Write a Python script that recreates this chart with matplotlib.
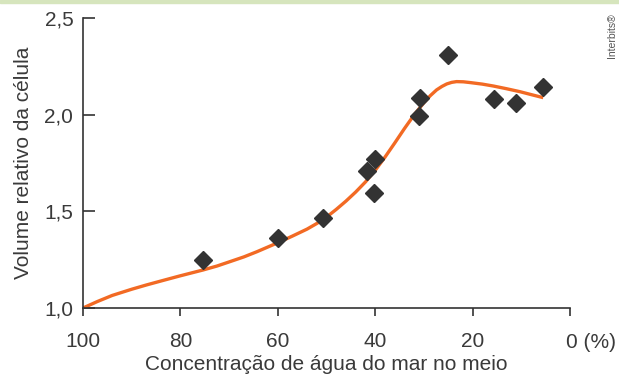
import matplotlib
matplotlib.use("Agg")
import matplotlib.pyplot as plt
from matplotlib.patches import Rectangle

# Data points (measured)
pts_x = [75.4, 60.0, 50.7, 41.7, 40.0, 40.2, 30.8, 31.0, 25.1, 15.6, 11.1, 5.5]
pts_y = [1.248, 1.362, 1.466, 1.709, 1.771, 1.595, 2.086, 1.993, 2.309, 2.081, 2.060, 2.143]

# Fitted curve
curve_x = [100, 97, 94, 90, 87, 83.5, 80.1, 75.3, 72.5, 69.8, 67.0, 64.3,
           59.5, 57, 54, 52, 50, 48, 46, 44, 42, 40, 38, 36, 34, 32, 30,
           28.7, 27.4, 26.3, 25.3, 24.3, 23.3, 21.9, 20.5, 18, 15.7, 13, 10.3, 8, 5.5]
curve_y = [1.000, 1.034, 1.065, 1.097, 1.119, 1.143, 1.166, 1.197, 1.217, 1.240, 1.264, 1.291,
           1.343, 1.372, 1.408, 1.437, 1.470, 1.510, 1.553, 1.600, 1.652, 1.712, 1.780,
           1.853, 1.928, 1.999, 2.062, 2.098, 2.128, 2.146, 2.159, 2.167, 2.171, 2.170,
           2.166, 2.158, 2.148, 2.134, 2.119, 2.104, 2.088]

xticks = [100, 80, 60, 40, 20, 0]
xticklabels = ["100", "80", "60", "40", "20", ""]
yticks = [1.0, 1.5, 2.0, 2.5]
yticklabels = ["1,0", "1,5", "2,0", "2,5"]

plt.rcParams['font.family'] = ['Liberation Sans', 'DejaVu Sans']
txt = '#3a3a3a'
axc = '#333333'
fs = 15

fig = plt.figure(figsize=(6.19, 3.76), dpi=100)
ax = fig.add_axes([83/619, 1-308/376, (570-83)/619, (308-18)/376])

ax.plot(curve_x, curve_y, color='#f26a24', lw=2.4, solid_capstyle='butt',
        solid_joinstyle='round', zorder=2)
ax.plot(pts_x, pts_y, linestyle='none', marker='D', ms=9, color='#333333', zorder=3)

ax.set_xlim(100, 0)
ax.set_ylim(1.0, 2.5)
ax.set_xticks(xticks)
ax.set_xticklabels(xticklabels)
ax.set_yticks(yticks)
ax.set_yticklabels(yticklabels)

for s in ['top', 'right']:
    ax.spines[s].set_visible(False)
for s in ['left', 'bottom']:
    ax.spines[s].set_color(axc)
    ax.spines[s].set_linewidth(1.2)

ax.tick_params(axis='x', direction='out', length=6, width=1.2, color=axc, pad=11,
               labelsize=fs, labelcolor=txt)
ax.tick_params(axis='y', direction='in', length=8.5, width=1.2, color=axc, pad=7,
               labelsize=fs, labelcolor=txt)

ax.set_xlabel('Concentração de água do mar no meio', fontsize=fs, color=txt, labelpad=3)
ax.set_ylabel('Volume relativo da célula', fontsize=fs, color=txt, labelpad=8)

fig.text(566/619, 1-342/376, '0 (%)', fontsize=fs, color=txt, ha='left', va='center')
fig.text(612/619, 1-36/376, 'Interbits®', fontsize=7.5, color='#555555', rotation=90,
         ha='center', va='center')

fig.patches.append(Rectangle((0, 1-3/376), 1, 3/376, transform=fig.transFigure,
                             color='#d6e5bd', zorder=0))

fig.savefig('out.png', dpi=100)
